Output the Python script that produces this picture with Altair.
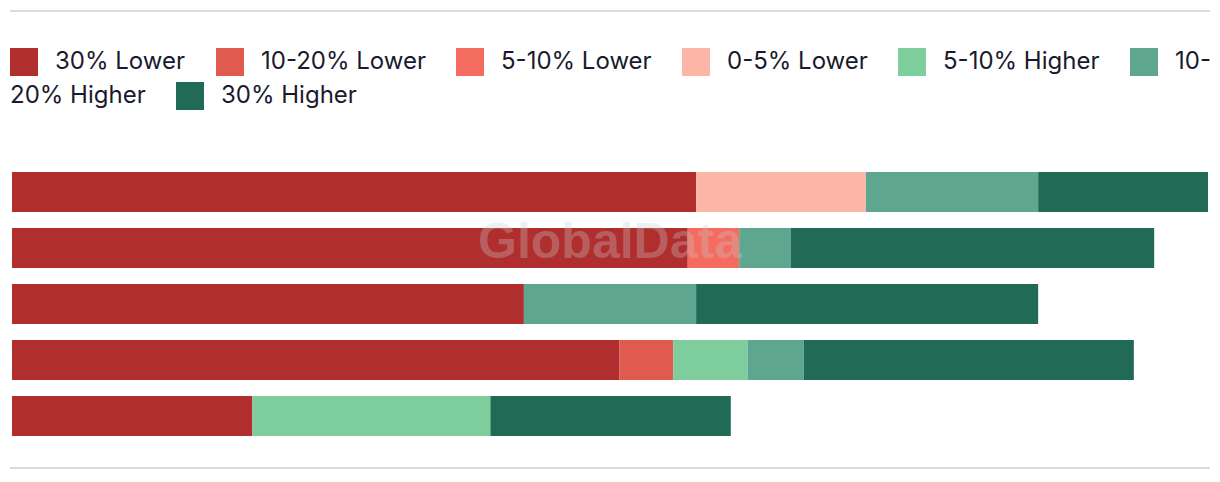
import altair as alt
import pandas as pd

rows = ["Row 1", "Row 2", "Row 3", "Row 4", "Row 5"]
categories = ["30% Lower", "10-20% Lower", "5-10% Lower", "0-5% Lower",
              "5-10% Higher", "10-20% Higher", "30% Higher"]
colors = ["#b02e2e", "#e05a4f", "#f46b60", "#fdb5a6", "#7ecd9c", "#5fa68f", "#216a56"]

# values per row, in legend order (0 = absent)
row1 = [57.2, 0, 0, 14.2, 0, 14.4, 14.2]
row2 = [56.5, 0, 4.3, 0, 0, 4.3, 30.4]
row3 = [42.8, 0, 0, 0, 0, 14.4, 28.6]
row4 = [50.8, 4.5, 0, 0, 6.2, 4.7, 27.6]
row5 = [20.1, 0, 0, 0, 19.9, 0, 20.1]

records = []
for r, vals in zip(rows, [row1, row2, row3, row4, row5]):
    for i, (c, v) in enumerate(zip(categories, vals)):
        if v > 0:
            records.append({"row": r, "category": c, "value": v, "order": i})
df = pd.DataFrame(records)

FONT = "Inter"
TXT = "#1a1a2e"
last = categories[-1]

base = alt.Chart(df).transform_stack(
    stack="value", groupby=["row"], sort=[alt.SortField("order", order="ascending")],
    as_=["x0", "x1"]
)

yenc = alt.Y("row:N", sort=rows, axis=None,
             scale=alt.Scale(paddingInner=0.2857, paddingOuter=0.143))
xenc = alt.X("x0:Q", axis=None, scale=alt.Scale(domain=[0, 100], nice=False))

common_legend = dict(
    orient="none", direction="horizontal", symbolType="square", symbolSize=784,
    symbolStrokeWidth=0, symbolOpacity=1, labelFont=FONT, labelFontSize=24,
    labelColor=TXT, labelOffset=17, columnPadding=30, labelLimit=400,
)

bars_a = base.transform_filter(alt.datum.category != last).mark_bar(opacity=1).encode(
    y=yenc, x=xenc, x2="x1:Q",
    color=alt.Color("category:N",
                    scale=alt.Scale(domain=categories[:-1], range=colors[:-1]),
                    sort=categories[:-1],
                    legend=alt.Legend(
                        title=None, legendX=-2, legendY=-116, columns=6,
                        labelExpr="datum.label == '10-20% Higher' ? '10-' : datum.label",
                        **common_legend)),
)

bars_b = base.transform_filter(alt.datum.category == last).mark_bar(opacity=1).encode(
    y=yenc, x=xenc, x2="x1:Q",
    color=alt.Color("category:N",
                    scale=alt.Scale(domain=[last], range=[colors[-1]]),
                    legend=alt.Legend(
                        title="20% Higher", titleOrient="left", titleFont=FONT,
                        titleFontSize=24, titleFontWeight="normal", titleColor=TXT,
                        titlePadding=30, titleBaseline="middle",
                        legendX=-2, legendY=-82, **common_legend)),
)

top_rule = alt.Chart(df).mark_rule(color="#dcdcdc", strokeWidth=2).encode(
    x=alt.value(-2), x2=alt.value(1198), y=alt.value(-153))
bottom_rule = alt.Chart(df).mark_rule(color="#dcdcdc", strokeWidth=2).encode(
    x=alt.value(-2), x2=alt.value(1198), y=alt.value(304))

watermark = alt.Chart(pd.DataFrame({"t": ["GlobalData"]})).mark_text(
    font="Liberation Sans", fontWeight="bold", fontSize=50,
    color="#cccccc", opacity=0.3, align="center", baseline="alphabetic"
).encode(text="t:N", x=alt.value(598), y=alt.value(94))

chart = alt.layer(bars_a, bars_b, top_rule, bottom_rule, watermark).resolve_scale(
    color="independent"
).properties(
    width=1196, height=280,
    padding={"left": 12, "top": 164, "right": 12, "bottom": 38},
    autosize=alt.AutoSizeParams(type="none"),
    background="white",
).configure_view(stroke=None)

chart.save("out.html", embed_options={"renderer": "svg", "actions": False})
